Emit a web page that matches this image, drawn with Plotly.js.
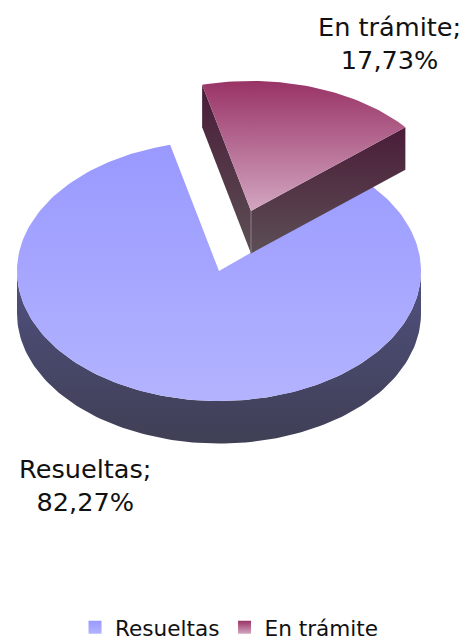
<!DOCTYPE html>
<html>
<head>
<meta charset="utf-8">
<script src="https://cdn.plot.ly/plotly-3.0.1.min.js"></script>
<style>html,body{margin:0;padding:0;background:#fff}</style>
</head>
<body>
<div id="chart" style="width:466px;height:640px"></div>
<script>
const categories = ["Resueltas", "En trámite"];
const values = [82.27, 17.73];
const topGradients = [["#9999ff", "#b3b3ff"], ["#993366", "#d2a6c1"]];
const sideGradients = [["#50507f", "#3f3f55"], ["#4a1c38", "#5c4f55"]];
const labelX = [84.5, 389];
const labelY = [485, 43];

// pie projection
const cx = 219, cy = 271, rx = 202, ry = 130, depth = 42;
const startDeg = -14;
const explodeX = 32, explodeY = -60;

const sweep = values[1] / (values[0] + values[1]) * 360;
const pt = (deg, ox, oy) => {
  const a = deg * Math.PI / 180;
  return [cx + ox + rx * Math.sin(a), cy + oy - ry * Math.cos(a)];
};
const arc = (d0, d1, ox, oy) => {
  const n = Math.ceil(Math.abs(d1 - d0) / 1.5), out = [];
  for (let i = 0; i <= n; i++) out.push(pt(d0 + (d1 - d0) * i / n, ox, oy));
  return out;
};
// the y axis is reversed, so a vertical fill gradient runs from the lower edge up
const poly = (points, colors) => ({
  type: "scatter", mode: "lines", showlegend: false, hoverinfo: "skip",
  x: points.map(p => p[0]), y: points.map(p => p[1]),
  line: {width: 0}, fill: "toself",
  fillgradient: {type: "vertical", colorscale: [[0, colors[1]], [1, colors[0]]]}
});

const sliceEnd = startDeg + sweep;
const apexMain = [cx, cy];
const apexSlice = [cx + explodeX, cy + explodeY];
const drop = p => [p[0], p[1] + depth + 0.5];

// main slice: its edge runs a little under the wall of the exploded slice
const mainTop = [apexMain, ...arc(sliceEnd - 1.5, startDeg + 360, 0, 0), apexMain];
const mainSideTop = arc(90, 270, 0, 0);
const mainSide = [...mainSideTop, ...mainSideTop.slice().reverse().map(drop)];

// exploded slice
const t1 = pt(startDeg, explodeX, explodeY);
const t2 = pt(sliceEnd, explodeX, explodeY);
const sliceTop = [apexSlice, ...arc(startDeg, sliceEnd, explodeX, explodeY), apexSlice];
const wallLeft = [t1, apexSlice, drop(apexSlice), drop(t1), t1];
const wallRight = [t2, apexSlice, drop(apexSlice), drop(t2), t2];
const wallEdge = [apexSlice, drop(apexSlice)];

const legendTrace = i => ({
  type: "scatter", mode: "markers", name: categories[i], x: [null], y: [null],
  hoverinfo: "skip",
  marker: {symbol: "square", size: 13, line: {width: 0}, color: topGradients[i][0],
           gradient: {type: "vertical", color: topGradients[i][1]}}
});

const traces = [
  poly(mainSide, sideGradients[0]),
  poly(mainTop, topGradients[0]),
  poly(wallLeft, sideGradients[1]),
  poly(wallRight, sideGradients[1]),
  {type: "scatter", mode: "lines", showlegend: false, hoverinfo: "skip",
   x: wallEdge.map(p => p[0]), y: wallEdge.map(p => p[1]),
   line: {width: 1, color: "#8f7f8a"}},
  poly(sliceTop, topGradients[1]),
  legendTrace(0),
  legendTrace(1)
];

const fmt = v => v.toFixed(2).replace(".", ",") + "%";
const annotations = categories.map((c, i) => ({
  x: labelX[i], y: labelY[i], xref: "x", yref: "y", showarrow: false,
  text: c + ";<br>" + fmt(values[i]), align: "center",
  font: {family: "DejaVu Sans", size: 25.6, color: "#111"}
}));

const layout = {
  width: 466, height: 640, margin: {l: 0, r: 0, t: 0, b: 0, autoexpand: false},
  paper_bgcolor: "#fff", plot_bgcolor: "#fff",
  xaxis: {range: [0, 466], visible: false, fixedrange: true},
  yaxis: {range: [640, 0], visible: false, fixedrange: true},
  annotations,
  legend: {orientation: "h", x: 0.161, xanchor: "left", y: 0.052, yanchor: "top",
           itemwidth: 30,
           font: {family: "DejaVu Sans", size: 21.6, color: "#111"},
           bgcolor: "rgba(0,0,0,0)"}
};
Plotly.newPlot("chart", traces, layout, {displayModeBar: false, staticPlot: true});
</script>
</body>
</html>
